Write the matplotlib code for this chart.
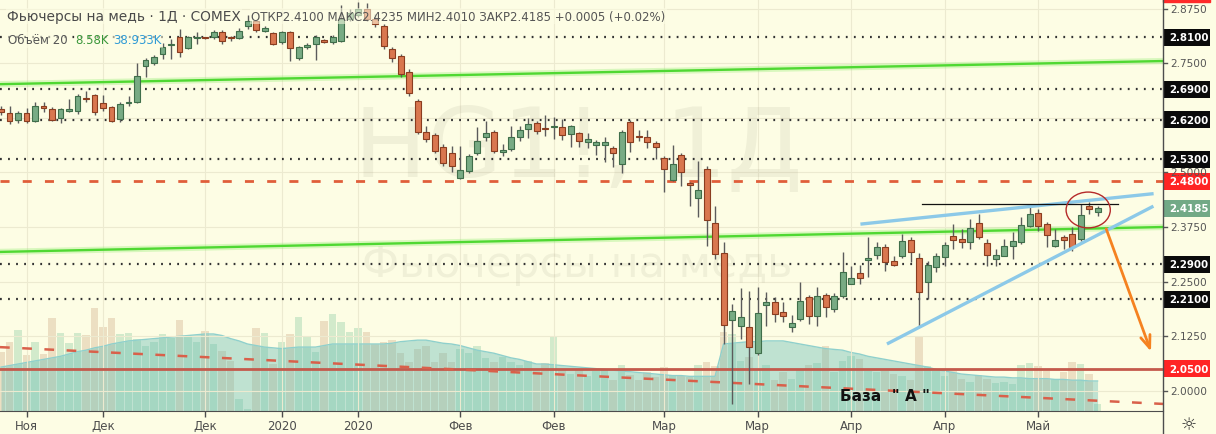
import numpy as np
import matplotlib.pyplot as plt
from matplotlib.patches import Rectangle, Ellipse
from matplotlib.lines import Line2D

plt.rcParams['lines.scale_dashes'] = False
plt.rcParams['font.family'] = ['DejaVu Sans']

# daily candles, Nov 2019 - May 2020
opens = [2.645, 2.636, 2.620, 2.636, 2.618, 2.652, 2.645, 2.625, 2.641, 2.641,
         2.670, 2.677, 2.659, 2.650, 2.622, 2.659, 2.661, 2.744, 2.750, 2.771,
         2.792, 2.810, 2.785, 2.808, 2.808, 2.810, 2.821, 2.810, 2.808, 2.835,
         2.847, 2.824, 2.819, 2.799, 2.821, 2.762, 2.787, 2.794, 2.803, 2.799,
         2.801, 2.851, 2.860, 2.874, 2.851, 2.835, 2.783, 2.766, 2.730, 2.663,
         2.592, 2.586, 2.558, 2.544, 2.487, 2.503, 2.544, 2.581, 2.592, 2.547,
         2.554, 2.581, 2.599, 2.613, 2.602, 2.603, 2.604, 2.588, 2.590, 2.570,
         2.563, 2.563, 2.556, 2.519, 2.615, 2.583, 2.581, 2.567, 2.533, 2.483,
         2.540, 2.476, 2.441, 2.508, 2.384, 2.315, 2.162, 2.148, 2.146, 2.087,
         2.196, 2.203, 2.180, 2.146, 2.164, 2.215, 2.171, 2.219, 2.187, 2.217,
         2.244, 2.270, 2.299, 2.311, 2.329, 2.297, 2.309, 2.345, 2.304, 2.249,
         2.283, 2.306, 2.354, 2.347, 2.341, 2.384, 2.338, 2.302, 2.309, 2.331,
         2.341, 2.377, 2.407, 2.382, 2.331, 2.352, 2.359, 2.348, 2.423, 2.410]
highs = [2.652, 2.652, 2.641, 2.647, 2.661, 2.661, 2.650, 2.647, 2.668, 2.679,
         2.686, 2.679, 2.677, 2.652, 2.661, 2.675, 2.750, 2.762, 2.769, 2.796,
         2.805, 2.828, 2.812, 2.821, 2.810, 2.826, 2.826, 2.812, 2.831, 2.860,
         2.849, 2.835, 2.821, 2.824, 2.824, 2.789, 2.796, 2.815, 2.805, 2.815,
         2.883, 2.874, 2.890, 2.888, 2.863, 2.840, 2.787, 2.771, 2.737, 2.668,
         2.606, 2.590, 2.565, 2.560, 2.560, 2.542, 2.604, 2.618, 2.597, 2.565,
         2.606, 2.606, 2.624, 2.618, 2.631, 2.627, 2.622, 2.609, 2.592, 2.590,
         2.574, 2.581, 2.560, 2.597, 2.620, 2.597, 2.597, 2.572, 2.537, 2.563,
         2.544, 2.478, 2.526, 2.515, 2.423, 2.341, 2.199, 2.235, 2.228, 2.238,
         2.226, 2.215, 2.203, 2.173, 2.249, 2.219, 2.238, 2.224, 2.224, 2.318,
         2.286, 2.288, 2.352, 2.341, 2.336, 2.309, 2.359, 2.352, 2.315, 2.297,
         2.315, 2.341, 2.382, 2.370, 2.393, 2.405, 2.348, 2.325, 2.348, 2.363,
         2.398, 2.423, 2.416, 2.386, 2.370, 2.357, 2.375, 2.428, 2.432, 2.4235]
lows = [2.631, 2.611, 2.613, 2.613, 2.615, 2.638, 2.618, 2.613, 2.638, 2.634,
        2.661, 2.631, 2.641, 2.615, 2.615, 2.652, 2.659, 2.718, 2.746, 2.760,
        2.760, 2.764, 2.783, 2.794, 2.805, 2.805, 2.794, 2.801, 2.805, 2.828,
        2.821, 2.821, 2.792, 2.794, 2.755, 2.757, 2.783, 2.757, 2.796, 2.794,
        2.799, 2.847, 2.856, 2.847, 2.833, 2.783, 2.753, 2.718, 2.675, 2.588,
        2.570, 2.544, 2.515, 2.501, 2.485, 2.499, 2.540, 2.572, 2.544, 2.537,
        2.549, 2.572, 2.579, 2.588, 2.583, 2.576, 2.574, 2.558, 2.558, 2.556,
        2.540, 2.524, 2.512, 2.499, 2.547, 2.572, 2.556, 2.531, 2.455, 2.480,
        2.469, 2.423, 2.398, 2.331, 2.302, 2.107, 1.970, 2.119, 2.015, 2.082,
        2.148, 2.157, 2.157, 2.134, 2.160, 2.153, 2.148, 2.169, 2.180, 2.212,
        2.244, 2.244, 2.260, 2.302, 2.274, 2.286, 2.304, 2.295, 2.148, 2.210,
        2.272, 2.286, 2.325, 2.327, 2.325, 2.348, 2.286, 2.286, 2.309, 2.302,
        2.336, 2.375, 2.366, 2.329, 2.329, 2.325, 2.320, 2.343, 2.405, 2.401]
closes = [2.638, 2.618, 2.636, 2.618, 2.652, 2.647, 2.620, 2.645, 2.645, 2.675,
          2.668, 2.638, 2.647, 2.618, 2.657, 2.661, 2.721, 2.757, 2.764, 2.787,
          2.794, 2.776, 2.810, 2.810, 2.807, 2.821, 2.801, 2.808, 2.824, 2.847,
          2.826, 2.831, 2.794, 2.821, 2.785, 2.787, 2.792, 2.810, 2.799, 2.810,
          2.851, 2.865, 2.874, 2.851, 2.840, 2.789, 2.762, 2.725, 2.682, 2.592,
          2.576, 2.549, 2.521, 2.515, 2.505, 2.537, 2.572, 2.590, 2.549, 2.551,
          2.581, 2.597, 2.611, 2.595, 2.600, 2.604, 2.586, 2.606, 2.572, 2.576,
          2.570, 2.570, 2.544, 2.592, 2.570, 2.582, 2.570, 2.558, 2.508, 2.519,
          2.501, 2.471, 2.460, 2.391, 2.313, 2.151, 2.183, 2.169, 2.100, 2.178,
          2.203, 2.176, 2.171, 2.155, 2.206, 2.171, 2.217, 2.192, 2.217, 2.272,
          2.258, 2.258, 2.304, 2.329, 2.295, 2.288, 2.343, 2.318, 2.226, 2.288,
          2.309, 2.334, 2.345, 2.341, 2.373, 2.352, 2.311, 2.311, 2.331, 2.343,
          2.380, 2.405, 2.377, 2.357, 2.345, 2.345, 2.329, 2.402, 2.416, 2.4185]
# volume, thousands of contracts
volumes = [77, 90, 105, 73, 90, 74, 121, 101, 88, 101,
           99, 134, 109, 121, 100, 101, 94, 85, 90, 100,
           95, 118, 97, 90, 104, 87, 78, 65, 16, 3,
           108, 101, 61, 90, 100, 122, 96, 77, 117, 126,
           116, 103, 108, 103, 87, 90, 92, 75, 64, 80,
           85, 64, 75, 64, 80, 75, 84, 69, 64, 70,
           64, 60, 65, 55, 62, 96, 55, 48, 55, 45,
           52, 55, 40, 60, 47, 40, 50, 44, 57, 46,
           45, 44, 60, 64, 58, 103, 100, 65, 70, 55,
           60, 40, 50, 42, 55, 60, 62, 85, 50, 65,
           72, 68, 52, 50, 52, 48, 46, 40, 96, 58,
           52, 45, 52, 42, 38, 47, 42, 36, 38, 35,
           60, 62, 58, 52, 42, 50, 64, 61, 48, 8.58]
vol_ma = [57, 59, 61, 63, 65, 67, 69, 71, 74, 77,
          79, 82, 84, 87, 89, 91, 92, 93, 94, 95,
          96, 97, 98, 99, 100, 100, 98, 94, 91, 87,
          85, 83, 82, 81, 82, 83, 83, 83, 85, 87,
          87, 87, 87, 87, 87, 87, 88, 90, 91, 92,
          92, 90, 88, 87, 85, 82, 79, 77, 75, 72,
          69, 67, 64, 61, 61, 60, 59, 58, 57, 56,
          55, 54, 53, 52, 51, 50, 49, 48, 47, 46,
          46, 45, 45, 45, 45, 87, 88, 89, 90, 90,
          91, 91, 91, 89, 87, 85, 83, 81, 80, 79,
          76, 74, 71, 69, 67, 65, 63, 61, 59, 57,
          54, 52, 50, 48, 47, 46, 45, 44, 44, 43,
          43, 42, 42, 42, 41, 41, 40, 40, 39, 38.933]

month_pos = [3, 12, 24, 33, 42, 54, 65, 78, 89, 100, 111, 122]
month_labels = ['Ноя', 'Дек', 'Дек', '2020', '2020', 'Фев', 'Фев',
                'Мар', 'Мар', 'Апр', 'Апр', 'Май']
grid_prices = [2.875, 2.75, 2.625, 2.5, 2.375, 2.25, 2.125, 2.0]
plain_labels = [2.875, 2.75, 2.5, 2.375, 2.25, 2.125, 2.0]
dotted_levels = [2.81, 2.69, 2.62, 2.53, 2.29, 2.21]
red_levels = [2.48, 2.05]
last_price = 2.4185

# drawn lines (bar index, price)
green_up_x, green_up_y = [-0.12, 136.7], [2.702, 2.755]
green_lo_x, green_lo_y = [-0.12, 136.7], [2.318, 2.375]
trend_x, trend_y = [-0.12, 136.7], [2.100, 1.970]
wedge_up_x, wedge_up_y = [101.3, 135.4], [2.382, 2.451]
wedge_lo_x, wedge_lo_y = [104.4, 135.4], [2.109, 2.421]
resist_x, resist_y = [108.4, 131.4], [2.428, 2.428]

bg = '#fdfde4'
W, H = 1216, 435
fig = plt.figure(figsize=(W / 100, H / 100), dpi=100, facecolor=bg)
rect = [0, 23 / H, 1163 / W, 412 / H]
ylo, yhi = 1.9538, 2.8970
xlo, xhi = -0.12, 136.7

# volume pane underneath
axv = fig.add_axes(rect)
axv.set_facecolor(bg)
axv.set_xlim(xlo, xhi)
axv.set_ylim(0, 535)
axv.axis('off')
x = np.arange(len(opens))
o = np.array(opens); c = np.array(closes)
hi = np.array(highs); lo = np.array(lows)
up = c >= o
vcol = np.where(up, '#d2eacb', '#ecdfc2')
axv.bar(x, volumes, 0.85, color=vcol, lw=0)
axv.fill_between(x, 0, vol_ma, color='#5cb8b4', alpha=0.38, lw=0)
axv.plot(x, vol_ma, color='#8fd0cc', lw=1)

ax = fig.add_axes(rect)
ax.patch.set_alpha(0)
ax.set_xlim(xlo, xhi)
ax.set_ylim(ylo, yhi)
ax.set_xticks(month_pos)
ax.set_xticklabels(month_labels, fontsize=8.5, color='#4d4d4d')
ax.set_yticks(grid_prices)
ax.tick_params(axis='y', left=False, labelleft=False)
ax.tick_params(axis='x', length=4, width=1, color='#4d4d4d', pad=2)
ax.grid(True, color='#ecead0', lw=0.8, zorder=0)
ax.set_axisbelow(True)
for s in ['top', 'left', 'right']:
    ax.spines[s].set_visible(False)
ax.spines['bottom'].set_color('#4d4d4d')

# watermark
ax.text(0.497, 0.635, 'HG1!, 1Д', transform=ax.transAxes, fontsize=70,
        color='#9a9a80', alpha=0.13, ha='center', va='center', zorder=1)
ax.text(0.496, 0.357, 'Фьючерсы на медь', transform=ax.transAxes, fontsize=31,
        color='#9a9a80', alpha=0.13, ha='center', va='center', zorder=1)

# horizontal levels
for p in dotted_levels:
    ax.axhline(p, color='#333333', lw=1.6, ls=(0, (1.3, 4.5)), zorder=2)
ax.axhline(red_levels[0], color='#e05e3a', lw=2.0, ls=(0, (6.5, 9.5)), zorder=2)
ax.axhline(red_levels[1], color='#c45a4c', lw=2.0, zorder=2)
ax.plot(trend_x, trend_y, color='#d9604a', lw=1.8, ls=(0, (7, 9)), zorder=2)
for gx, gy in [(green_up_x, green_up_y), (green_lo_x, green_lo_y)]:
    ax.plot(gx, gy, color='#86ec66', lw=4.5, alpha=0.3, zorder=2)
    ax.plot(gx, gy, color='#4fd832', lw=1.7, zorder=2)

# candles
ax.vlines(x, lo, hi, color='#5b5b5b', lw=1, zorder=3)
blo = np.minimum(o, c)
bh = np.maximum(np.abs(c - o), 0.0025)
ax.bar(x[up], bh[up], 0.7, bottom=blo[up], color='#78ab84',
       edgecolor='#3f6e4a', lw=0.8, zorder=4)
ax.bar(x[~up], bh[~up], 0.7, bottom=blo[~up], color='#d9774f',
       edgecolor='#8a3d20', lw=0.8, zorder=4)

# pattern drawings
ax.plot(wedge_up_x, wedge_up_y, color='#8cc9e8', lw=2.4, zorder=5)
ax.plot(wedge_lo_x, wedge_lo_y, color='#8cc9e8', lw=2.4, zorder=5)
ax.plot(resist_x, resist_y, color='#111111', lw=0.9, zorder=5)
ax.add_patch(Ellipse((127.9, 2.414), 5.2, 0.082, fill=False,
                     edgecolor='#b52a2a', lw=1, zorder=6))
ax.annotate('', xy=(135.4, 2.084), xytext=(129.9, 2.377),
            arrowprops=dict(arrowstyle='->,head_length=0.9,head_width=0.35',
                            color='#f58220', lw=2), zorder=6)
ax.text(104.0, 1.990, 'База  " А "', fontsize=11, fontweight='bold',
        color='#111111', ha='center', va='center', zorder=6)

# price scale on the right
axp = fig.add_axes([1163 / W, 23 / H, 53 / W, 412 / H])
axp.set_facecolor(bg)
axp.set_xlim(0, 53)
axp.set_ylim(ylo, yhi)
axp.axis('off')
bh_px = 17 / 436.8
for p in plain_labels:
    axp.plot([0, 4], [p, p], color='#555555', lw=1)
    axp.text(7, p, f'{p:.4f}', fontsize=7.6, color='#555555', va='center', ha='left')
axp.add_patch(Rectangle((0, 2.890), 47, 0.01, color='#ff2a2a', clip_on=False))


def box_label(p, face, txt):
    axp.add_patch(Rectangle((0, p - bh_px / 2), 47, bh_px, color=face, lw=0))
    axp.text(6.5, p, txt, fontsize=7.4, fontweight='bold', color='white',
             va='center', ha='left')


for p in dotted_levels:
    box_label(p, '#0a0a0a', f'{p:.4f}')
for p in red_levels:
    box_label(p, '#ff2424', f'{p:.4f}')
box_label(last_price, '#72a986', f'{last_price:.4f}')

# frame lines, icon
fig.add_artist(Line2D([1163 / W, 1163 / W], [0, 1], color='#4d4d4d', lw=1))
fig.text(1189 / W, 1 - 425 / H, '☼', fontsize=13, color='#333333',
         ha='center', va='center')

# legend header
hb = dict(facecolor=bg, alpha=0.55, edgecolor='none', pad=1)
fig.text(7 / W, 1 - 17 / H, 'Фьючерсы на медь · 1Д · COMEX', fontsize=9.9,
         color='#4a4a4a', va='center', ha='left', bbox=hb)
fig.text(251 / W, 1 - 17 / H,
         'ОТКР2.4100 МАКС2.4235 МИН2.4010 ЗАКР2.4185 +0.0005 (+0.02%)',
         fontsize=8.5, color='#555555', va='center', ha='left', bbox=hb)
fig.text(8 / W, 1 - 41 / H, 'Объём 20', fontsize=8.5, color='#555555',
         va='center', ha='left', bbox=hb)
fig.text(75 / W, 1 - 41 / H, '8.58K', fontsize=8.5, color='#3a973a',
         va='center', ha='left', bbox=hb)
fig.text(113 / W, 1 - 41 / H, '38.933K', fontsize=8.5, color='#2f9bd6',
         va='center', ha='left', bbox=hb)

fig.savefig('out.png', dpi=100, facecolor=bg)
